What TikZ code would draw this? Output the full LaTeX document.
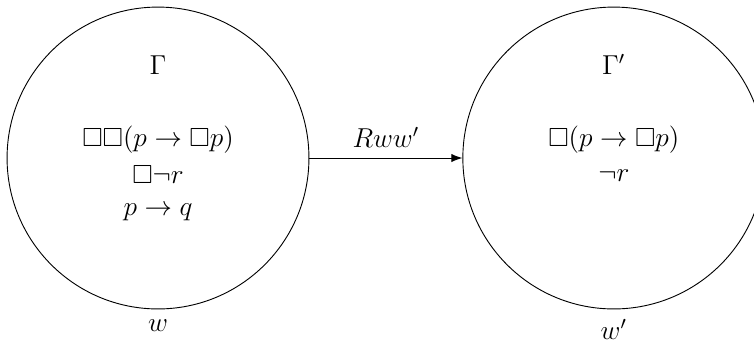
\documentclass[tikz,border=0pt]{standalone}
\usepackage{amsmath}
\usepackage{amssymb}
\usetikzlibrary{arrows.meta,positioning}
\tikzset{
  world/.style={
    circle,
    draw,
    thin,
    minimum size=132.4pt,
    inner sep=0pt
  },
  arrow/.style={
    -{Latex},
    thin
  }
}
\begin{document}
\begin{tikzpicture}[font=\fontsize{11.5pt}{13.8pt}\selectfont]
\useasboundingbox (-69.3pt,-81.1pt) rectangle (261.4pt,69.3pt);
\node[world] (w) at (0,0) {};
\node[world, right=67.1pt of w] (wp) {};
% left world
\node[above=33.1pt of w.center] (gam) {$\Gamma$};
\node[below=15.4pt of gam] (a1) {$\Box\Box(p \to \Box p)$};
\node[below=-1.3pt of a1] (a2) {$\Box\neg r$};
\node[below=1.5pt of a2] (a3) {$p \to q$};
% right world
\node[above=33.1pt of wp.center] (gamp) {$\Gamma'$};
\node[below=15.4pt of gamp] (b1) {$\Box(p \to \Box p)$};
\node[below=0.2pt of b1] (b2) {$\neg r$};
\node[below=1pt of w] (lw) {$w$};
\node[below=1pt of wp] (lwp) {$w'$};
\draw[arrow] (w) -- node[above=0.9pt] (rel) {$Rww'$} (wp);
\end{tikzpicture}
\end{document}
